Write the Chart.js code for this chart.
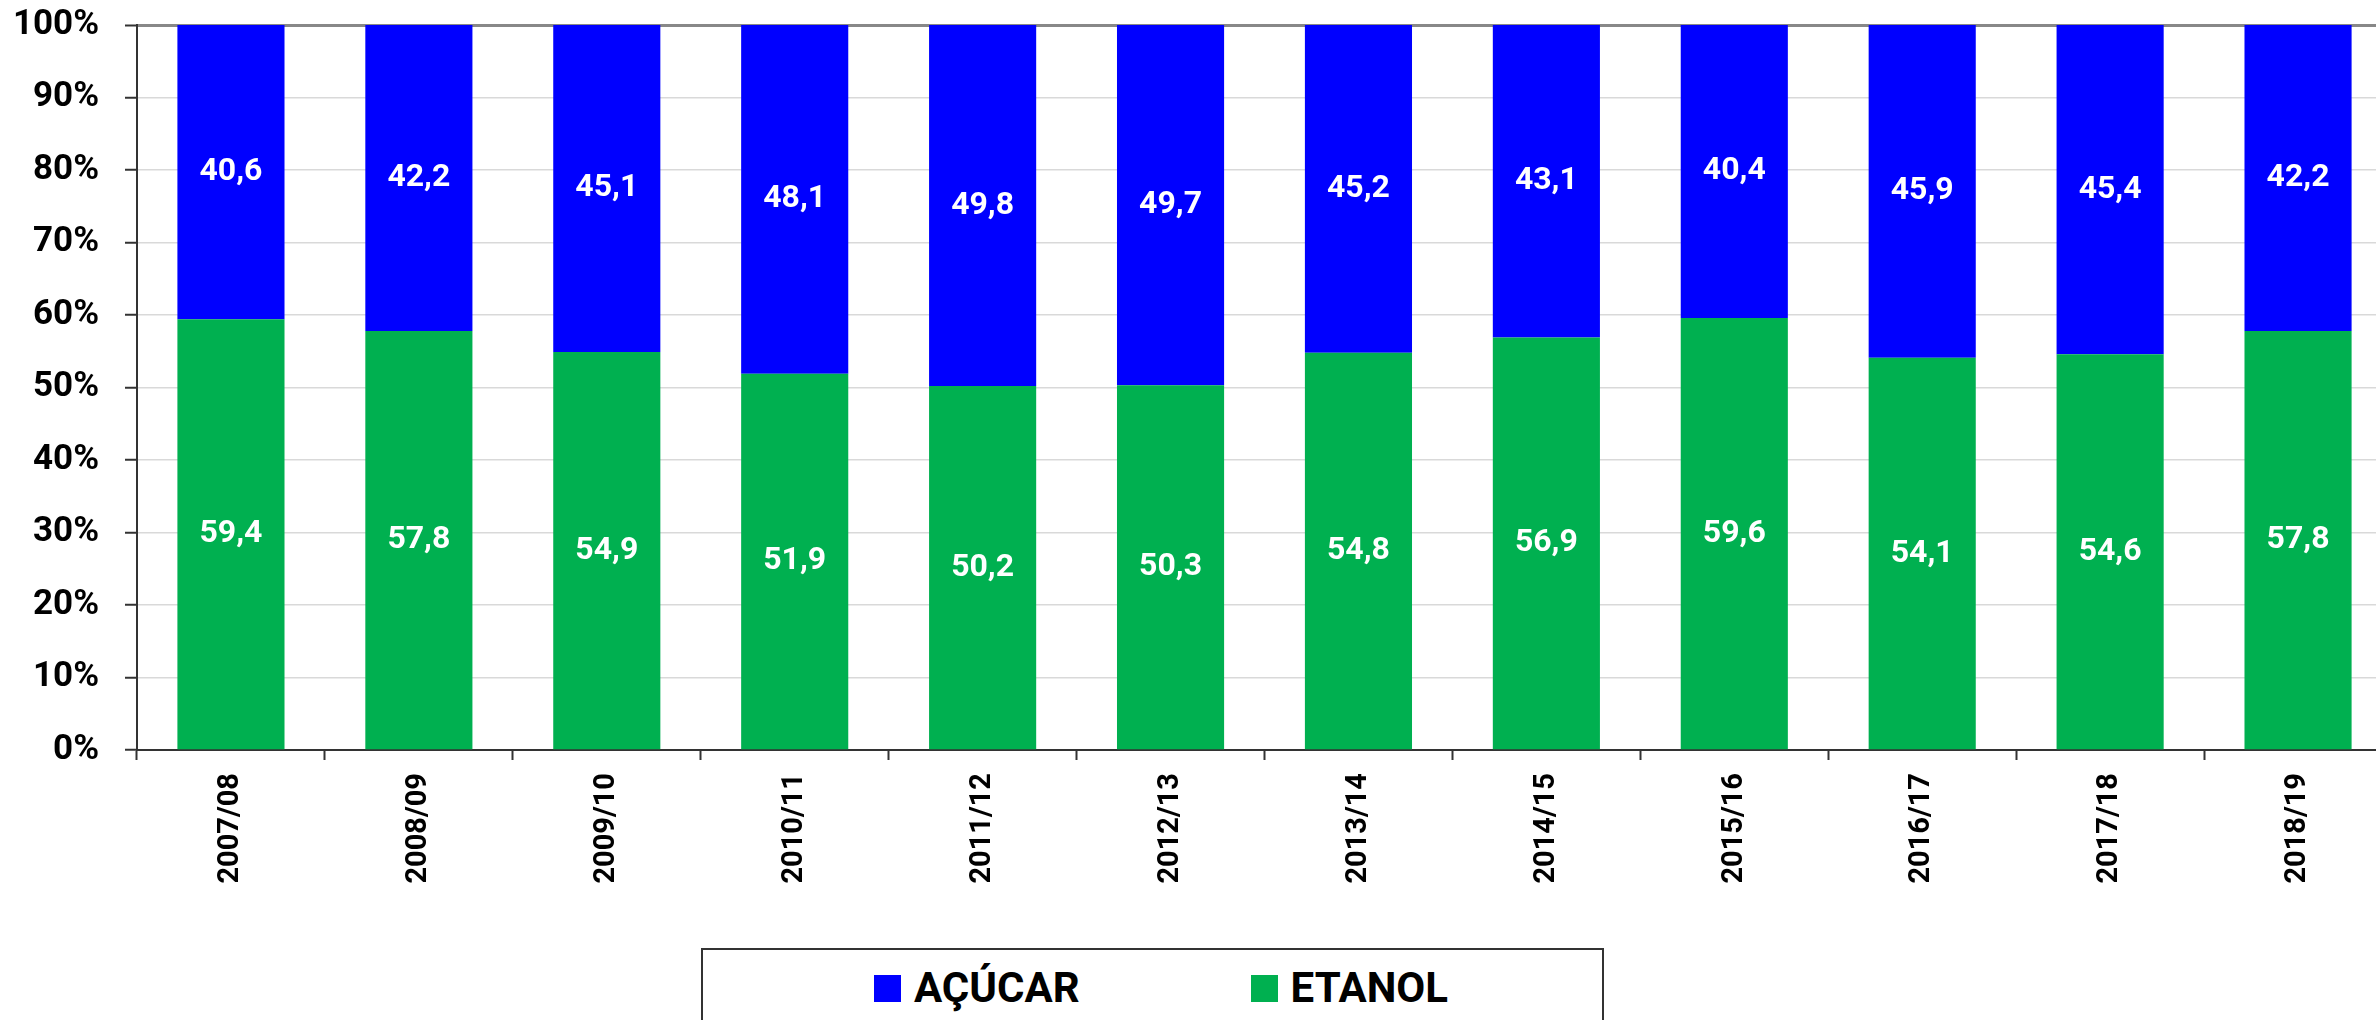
<!DOCTYPE html>
<html>
<head>
<meta charset="utf-8">
<script src="https://cdn.jsdelivr.net/npm/chart.js@4/dist/chart.umd.min.js"></script>
<style>
  html, body { margin: 0; padding: 0; background: #fff; overflow: hidden; }
  #wrap { position: absolute; left: 0; top: 0; width: 2400px; height: 1020px; }
  #legend {
    position: absolute; left: 701px; top: 948px; width: 899px; height: 120px;
    border: 2px solid #333; background: #fff;
    font-family: Roboto, "Noto Sans", sans-serif; font-weight: bold; font-size: 42px;
  }
  #legend .items {
    position: absolute; left: 0; right: 0; top: 17px;
    display: flex; justify-content: center; gap: 171px; padding-left: 17px;
    line-height: 42px;
  }
  #legend .item { display: flex; align-items: center; gap: 13px; color: #000; }
  #legend .box { width: 27px; height: 27px; }
</style>
</head>
<body>
<div id="wrap"><canvas id="chart"></canvas></div>
<div id="legend"><div class="items"></div></div>
<script>
// safras
var safras = ['2007/08', '2008/09', '2009/10', '2010/11', '2011/12', '2012/13',
              '2013/14', '2014/15', '2015/16', '2016/17', '2017/18', '2018/19'];

// mix de produção (%)
var etanol = [59.4, 57.8, 54.9, 51.9, 50.2, 50.3, 54.8, 56.9, 59.6, 54.1, 54.6, 57.8];
var acucar = [40.6, 42.2, 45.1, 48.1, 49.8, 49.7, 45.2, 43.1, 40.4, 45.9, 45.4, 42.2];

var yTicks = [0, 10, 20, 30, 40, 50, 60, 70, 80, 90, 100];

var AZUL = '#0000FF';
var VERDE = '#00B050';

// rotulos brancos no meio de cada barra
var rotulos = {
    id: 'rotulos',
    afterDatasetsDraw: function (chart) {
        var ctx = chart.ctx;
        ctx.save();
        ctx.fillStyle = '#fff';
        ctx.font = 'bold 32px Roboto';
        ctx.textAlign = 'center';
        ctx.textBaseline = 'middle';
        chart.data.datasets.forEach(function (ds, i) {
            chart.getDatasetMeta(i).data.forEach(function (bar, j) {
                var txt = ds.data[j].toFixed(1).replace('.', ',');
                ctx.fillText(txt, bar.x, (bar.y + bar.base) / 2);
            });
        });
        ctx.restore();
    }
};

var ctx = document.getElementById('chart');
var grafico = new Chart(ctx, {
    type: 'bar',
    data: {
        labels: safras,
        datasets: [
            { label: 'ETANOL', data: etanol, backgroundColor: VERDE },
            { label: 'AÇÚCAR', data: acucar, backgroundColor: AZUL }
        ]
    },
    options: {
        responsive: true,
        maintainAspectRatio: false,
        animation: false,
        layout: { padding: { left: 13, top: 25, right: 8, bottom: 0 } },
        datasets: { bar: { categoryPercentage: 1, barPercentage: 0.57 } },
        plugins: { legend: { display: false }, tooltip: { enabled: false } },
        scales: {
            x: {
                stacked: true,
                afterFit: function (axis) {
                    axis.height = 270;
                    axis.paddingLeft = 0;
                    axis.paddingRight = 0;
                },
                grid: { offset: true, drawOnChartArea: false, tickLength: 10, tickColor: '#333', tickWidth: 2 },
                border: { color: '#333', width: 2 },
                ticks: {
                    minRotation: 90, maxRotation: 90, padding: 13, color: '#000',
                    font: { family: 'Roboto', weight: 'bold', size: 29 }
                }
            },
            y: {
                stacked: true,
                min: 0,
                max: 100,
                afterBuildTicks: function (axis) {
                    axis.ticks = yTicks.map(function (v) { return { value: v }; });
                },
                afterFit: function (axis) {
                    axis.width = 124;
                    axis.paddingTop = 0;
                    axis.paddingBottom = 0;
                },
                grid: {
                    color: function (c) { return c.tick && c.tick.value === 100 ? '#888' : '#d9d9d9'; },
                    lineWidth: function (c) { return c.tick && c.tick.value === 100 ? 3 : 1.5; },
                    tickLength: 12, tickColor: '#333', tickWidth: 2
                },
                border: { color: '#333', width: 2 },
                ticks: {
                    padding: 26, color: '#000',
                    font: { family: 'Roboto', weight: 'bold', size: 35 },
                    callback: function (v) { return v + '%'; }
                }
            }
        }
    },
    plugins: [rotulos]
});

// legenda (ordem do original: AÇÚCAR, ETANOL)
var itens = document.querySelector('#legend .items');
[grafico.data.datasets[1], grafico.data.datasets[0]].forEach(function (ds) {
    var it = document.createElement('div');
    it.className = 'item';
    var b = document.createElement('span');
    b.className = 'box';
    b.style.background = ds.backgroundColor;
    var t = document.createElement('span');
    t.textContent = ds.label;
    it.appendChild(b);
    it.appendChild(t);
    itens.appendChild(it);
});
</script>
</body>
</html>
